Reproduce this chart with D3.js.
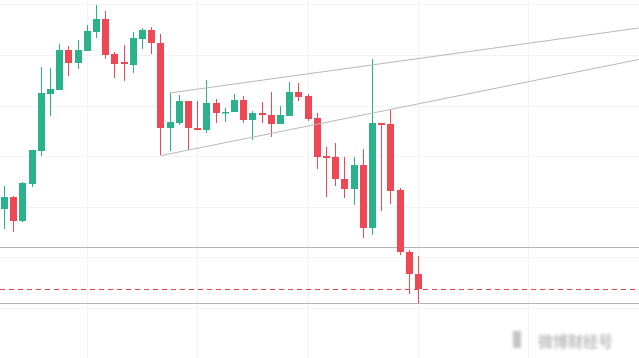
<!DOCTYPE html>
<html><head><meta charset="utf-8">
<script src="https://cdn.jsdelivr.net/npm/d3@7"></script>
<style>html,body{margin:0;padding:0;background:#fff;overflow:hidden}</style>
</head><body>
<svg id="chart" width="639" height="358"></svg>
<script>
// candle index
const idx = d3.range(46);
const openV  = [191,203,179,216,249,306,310,350,337,349,368,381,346,338,335,361,370,357,272,277,299,272,270,297,287,288,300,280,287,285,276,284,308,304,282,244,243,221,211,235,172,277,276,210,148,126];
const highV  = [214,204,218,250,333,332,356,354,360,375,395,389,348,355,368,372,373,366,307,305,299,299,320,301,292,306,304,289,298,308,294,318,317,306,287,253,257,243,243,251,341,277,290,212,150,144];
const lowV   = [171,168,178,213,244,284,310,324,331,349,362,341,322,319,327,351,346,245,249,275,250,270,267,277,278,288,277,260,277,263,276,284,299,279,231,203,214,202,195,162,165,189,196,145,106, 97];
const closeV = [203,179,217,250,307,311,350,337,350,369,381,345,336,336,362,370,357,272,278,299,272,270,297,287,288,300,280,287,285,276,285,308,303,281,243,242,221,211,235,172,277,275,209,148,126,111];

// horizontal levels
const solidLevels = [152.7, 96.7];
const dashedLevels = [111.5];
// trend lines: [index, price] start and end
const trendUpper = [[18, 307], [69, 372]];
const trendLower = [[17, 244.3], [69, 340.5]];
// grid
const gridPrices = [396, 345, 294, 244, 193, 143, 92];
const gridIdx = [9, 21, 33, 45, 57, 69];

const W = 639, H = 358;
const x = d3.scaleLinear().domain([0, 45]).range([4, 418]);
const y = d3.scaleLinear().domain([400, 42]).range([0, 358]);
const up = "#2ab38b", down = "#ef4855";

const svg = d3.select("#chart");
const defs = svg.append("defs");
defs.append("filter").attr("id","blur").append("feGaussianBlur").attr("stdDeviation",1.4);

// grid
svg.append("g").selectAll("line").data(gridPrices).join("line")
  .attr("x1",0).attr("x2",W)
  .attr("y1",d=>Math.round(y(d))+0.5).attr("y2",d=>Math.round(y(d))+0.5)
  .attr("stroke","#f3f3f3").attr("stroke-width",1);
svg.append("g").selectAll("line").data(gridIdx).join("line")
  .attr("y1",0).attr("y2",H)
  .attr("x1",d=>Math.round(x(d))+0.5).attr("x2",d=>Math.round(x(d))+0.5)
  .attr("stroke","#f3f3f3").attr("stroke-width",1);

// levels
svg.append("g").selectAll("line").data(solidLevels).join("line")
  .attr("x1",0).attr("x2",W)
  .attr("y1",d=>Math.round(y(d))+0.5).attr("y2",d=>Math.round(y(d))+0.5)
  .attr("stroke","#b4b4b4").attr("stroke-width",1);
svg.append("g").selectAll("line").data(dashedLevels).join("line")
  .attr("x1",0).attr("x2",W)
  .attr("y1",d=>Math.round(y(d))+0.5).attr("y2",d=>Math.round(y(d))+0.5)
  .attr("stroke","#e8414f").attr("stroke-width",1.2).attr("stroke-dasharray","5,4");

// candles
const g = svg.append("g");
const bw = 7;
idx.forEach(i => {
  const o = openV[i], c = closeV[i], h = highV[i], l = lowV[i];
  const col = c >= o ? up : down;
  const cx = Math.round(x(i));
  g.append("line").attr("x1",cx+0.5).attr("x2",cx+0.5)
    .attr("y1",y(h)).attr("y2",y(l)).attr("stroke",col).attr("stroke-width",1);
  const top = y(Math.max(o,c)), bot = y(Math.min(o,c));
  g.append("rect").attr("x",cx-3).attr("width",bw)
    .attr("y",top).attr("height",Math.max(1.5,bot-top)).attr("fill",col);
});

// trend lines
const tl = d3.line().x(d=>x(d[0])).y(d=>y(d[1]));
[trendUpper, trendLower].forEach(t => {
  svg.append("path").attr("d", tl(t)).attr("fill","none")
    .attr("stroke","#b8b8b8").attr("stroke-width",1);
});

// watermark (blurred)
const wm = svg.append("g").attr("filter","url(#blur)");
wm.append("rect").attr("x",513).attr("y",331).attr("width",8).attr("height",17).attr("fill","#c4c4c4");
wm.append("text").attr("x",538).attr("y",347).attr("font-family","Noto Sans CJK SC, sans-serif")
  .attr("font-size",15).attr("font-weight","bold").attr("fill","#bdbdbd").text("微博财经号");
</script>
</body></html>
